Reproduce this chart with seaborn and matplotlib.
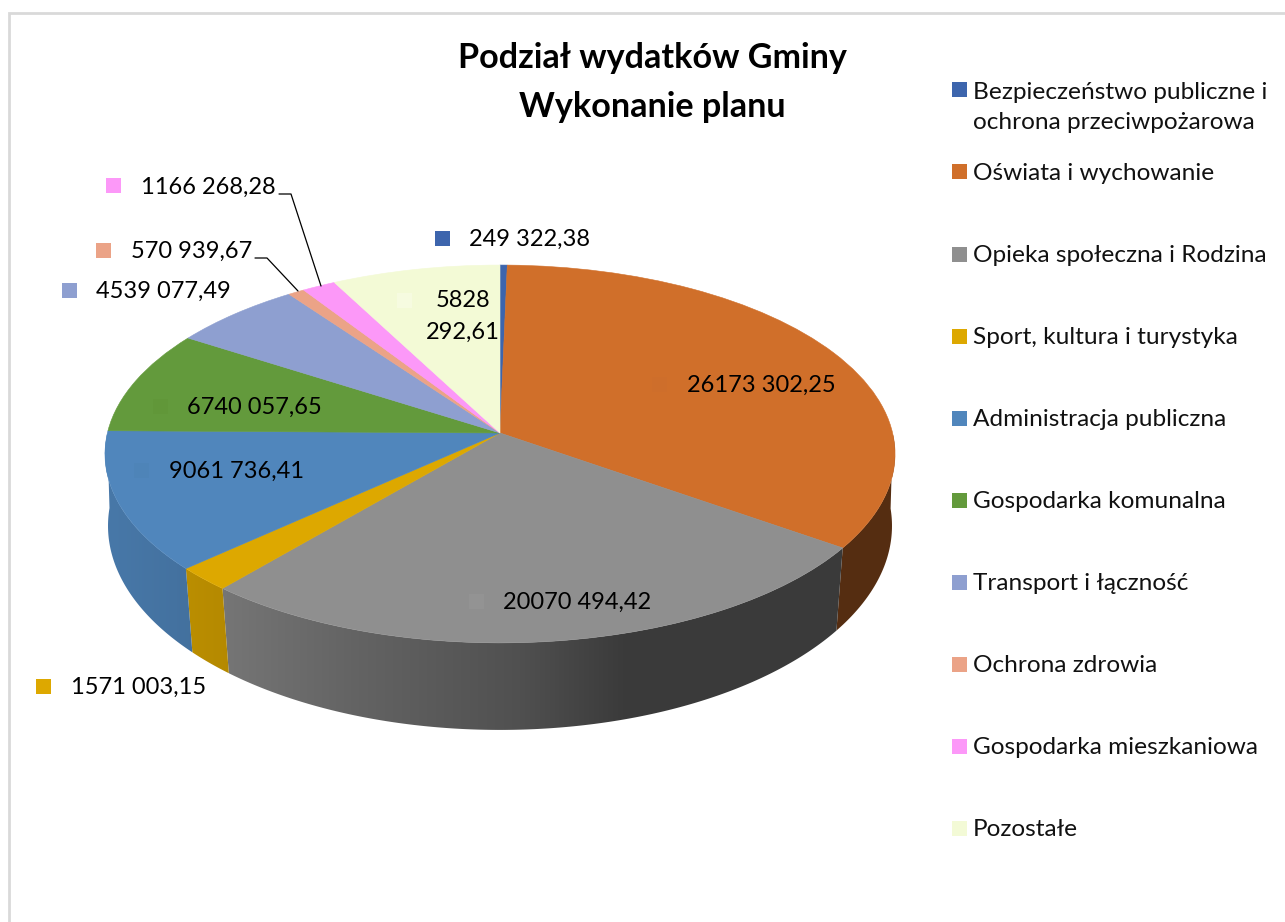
import matplotlib
matplotlib.use("Agg")
import matplotlib.pyplot as plt
from matplotlib.patches import Polygon, Rectangle
from matplotlib.transforms import Transform
import seaborn as sns
import numpy as np

categories = ["Bezpieczeństwo publiczne i\nochrona przeciwpożarowa", "Oświata i wychowanie",
              "Opieka społeczna i Rodzina", "Sport, kultura i turystyka", "Administracja publiczna",
              "Gospodarka komunalna", "Transport i łączność", "Ochrona zdrowia",
              "Gospodarka mieszkaniowa", "Pozostałe"]
values = [249322.38, 26173302.25, 20070494.42, 1571003.15, 9061736.41,
          6740057.65, 4539077.49, 570939.67, 1166268.28, 5828292.61]
value_labels = ["249 322,38", "26173 302,25", "20070 494,42", "1571 003,15", "9061 736,41",
                "6740 057,65", "4539 077,49", "570 939,67", "1166 268,28", "5828\n292,61"]
colors = ["#3D65AD", "#D06F2A", "#8F8F8F", "#DDA800", "#5086BC",
          "#639A3C", "#8E9FD0", "#EBA387", "#FC98F8", "#F3FAD6"]
title = "Podział wydatków Gminy\nWykonanie planu"

# left edge of the key square, centre y of the label, left edge of the text
label_pos = [(435, 238, 469), (652, 384, 687), (469, 601, 503), (36, 686, 71), (134, 470, 169),
             (153, 406, 187), (62, 290, 96), (96, 250, 131), (106, 186, 141), (397, 300, 439)]
key_colors = ["#3D65AD", "#CE6E2B", "#939393", "#DDA800", "#4E84B8",
              "#619739", "#8E9FD0", "#EBA387", "#FC98F8", "#F6FBE0"]

sns.set_theme(style="white")
plt.rcParams["font.family"] = ["Lato", "DejaVu Sans"]
palette = sns.color_palette(colors)


class TiltTransform(Transform):
    # perspective view of the unit circle, in picture pixels
    input_dims = 2
    output_dims = 2
    is_separable = False

    def __init__(self, cx, cy, rx, ry, k):
        super().__init__()
        self.cx, self.cy, self.rx, self.ry, self.k = cx, cy, rx, ry, k

    def transform_non_affine(self, xy):
        xy = np.asarray(xy)
        w = 1 + self.k * xy[:, 1]
        return np.column_stack((self.cx + self.rx * xy[:, 0] / w, self.cy - self.ry * xy[:, 1] / w))


top = TiltTransform(500, 433, 392.6, 186.6, 0.111)
bottom = TiltTransform(500, 507.5, 390.4, 202.4, 0.09)


def side_shade(x):
    return np.interp(x, [100, 225, 350, 520, 625, 900], [0.9, 0.82, 0.7, 0.56, 0.41, 0.41])


fig = plt.figure(figsize=(12.85, 9.22), dpi=100, facecolor="white")
ax = fig.add_axes([0, 0, 1, 1])
wedges, _ = ax.pie(values, colors=palette, startangle=90, counterclock=False, radius=1,
                   wedgeprops={"linewidth": 0.4})

for wedge, base in zip(wedges, palette):
    # visible part of the side wall, filled with a left to right gradient
    angles = np.radians(np.linspace(wedge.theta1, wedge.theta2, 200))
    pts = np.column_stack((np.cos(angles), np.sin(angles)))
    pts = pts[pts[:, 1] < 0]
    if len(pts) >= 2:
        up = top.transform_non_affine(pts)
        low = bottom.transform_non_affine(pts)
        outline = np.vstack((up, low[::-1]))
        x0, x1 = outline[:, 0].min(), outline[:, 0].max()
        y0, y1 = outline[:, 1].min(), outline[:, 1].max()
        xs = np.linspace(x0, x1, 400)
        grad = np.outer(side_shade(xs), np.array(base))[np.newaxis, :, :]
        im = ax.imshow(grad, extent=[x0, x1, y1, y0], aspect="auto", interpolation="bilinear", zorder=1)
        clip = Polygon(outline, closed=True, transform=ax.transData)
        im.set_clip_path(clip)
    wedge.set_transform(top + ax.transData)
    wedge.set_edgecolor(base)
    wedge.set_zorder(2)

ax.set_aspect("auto")
ax.set_xlim(0, 1285)
ax.set_ylim(922, 0)
ax.axis("off")

# outer frame of the chart, cut off by the crop on the other sides
ax.plot([9, 9, 1285], [922, 13.5, 13.5], color="#D9D9D9", lw=2, solid_joinstyle="miter")

ax.text(652, 82.5, title, ha="center", va="center", fontsize=24.6, fontweight="bold",
        color="black", linespacing=1.65, zorder=5)

for label, (kx, ky, tx), kc in zip(value_labels, label_pos, key_colors):
    ax.add_patch(Rectangle((kx, ky - 7.5), 15, 15, facecolor=kc, edgecolor="none", zorder=4))
    if "\n" in label:
        ax.text(463, 316.5, label, ha="center", va="center", fontsize=17, color="black",
                linespacing=1.6, zorder=5)
    else:
        ax.text(tx, ky + 1, label, ha="left", va="center", fontsize=17, color="black", zorder=5)

# leader lines of the two small slices
ax.plot([279, 291, 321], [194, 194, 286], color="black", lw=0.9, zorder=5)
ax.plot([255, 267, 298], [258, 258, 291], color="black", lw=0.9, zorder=5)

for i, (name, color) in enumerate(zip(categories, palette)):
    y = 90 + 82 * i
    ax.add_patch(Rectangle((952, y - 7.5), 15, 15, facecolor=color, edgecolor="none", zorder=4))
    if "\n" in name:
        ax.text(973, y - 8, name, ha="left", va="top", fontsize=17.6, color="#111111",
                linespacing=1.54, zorder=5)
    else:
        ax.text(973, y + 1, name, ha="left", va="center", fontsize=17.6, color="#111111", zorder=5)

fig.savefig("out.png", dpi=100, facecolor="white")
